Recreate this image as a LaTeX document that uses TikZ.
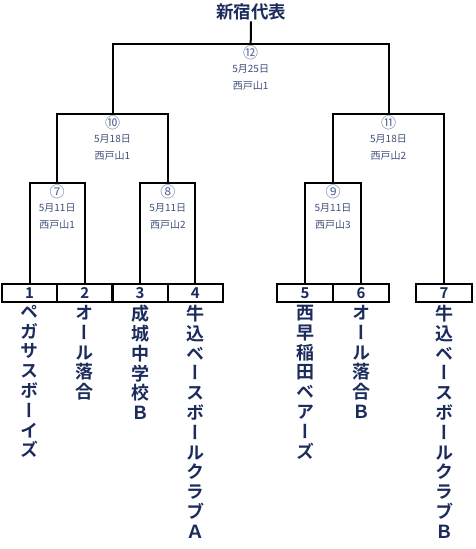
\documentclass[tikz,border=0pt]{standalone}
\usepackage{fontspec}
\usetikzlibrary{calc}
\newfontfamily\jp{Noto Sans CJK JP}
\newfontfamily\jpbh{Noto Sans CJK JP Bold}
\newfontfamily\jpbv[RawFeature=+vert]{Noto Sans CJK JP Bold}
\definecolor{navy}{HTML}{1B2B5B}
\definecolor{labc}{HTML}{3F4F78}
\definecolor{circc}{HTML}{5A6A99}
\begin{document}
\begin{tikzpicture}[x=1pt,y=-1pt,
  bracket/.style={line width=2pt, black},
  teambox/.style={draw, line width=2pt, minimum height=18pt, inner sep=0pt,
    font=\jpbh\fontsize{15}{15}\selectfont, text=navy},
  teamname/.style={anchor=north, inner sep=0pt, align=center,
    font=\jpbv\fontsize{18}{19.8}\selectfont, text=navy},
  circnum/.style={inner sep=0pt, font=\jp\fontsize{15}{15}\selectfont, text=circc},
  matchlab/.style={inner sep=0pt, font=\jp\fontsize{10}{10}\selectfont, text=labc},
  titlestyle/.style={inner sep=1pt, font=\jpbh\fontsize{17.5}{17.5}\selectfont, text=navy}]
\useasboundingbox (0,0) rectangle (476,549);
\fill[white] (0,0) rectangle (476,549);

% team boxes
\node[teambox, minimum width=55.25pt] (t1) at (29.6,293) {1};
\node[teambox, minimum width=55.25pt] (t2) at (84.9,293) {2};
\node[teambox, minimum width=55.25pt] (t3) at (140.1,293) {3};
\node[teambox, minimum width=55.25pt] (t4) at (195.4,293) {4};
\node[teambox, minimum width=56pt] (t5) at (305,293) {5};
\node[teambox, minimum width=56pt] (t6) at (361,293) {6};
\node[teambox, minimum width=56pt] (t7) at (444,293) {7};

% team names
\node[teamname] (n1) at (29.6,305) {ペ\\ガ\\サ\\ス\\ボ\\ー\\イ\\ズ};
\node[teamname] (n2) at (84.9,305) {オ\\ー\\ル\\落\\合};
\node[teamname] (n3) at (140.1,305) {成\\城\\中\\学\\校\\Ｂ};
\node[teamname] (n4) at (195.4,305) {牛\\込\\ベ\\ー\\ス\\ボ\\ー\\ル\\ク\\ラ\\ブ\\Ａ};
\node[teamname] (n5) at (305,305) {西\\早\\稲\\田\\ベ\\ア\\ー\\ズ};
\node[teamname] (n6) at (361,305) {オ\\ー\\ル\\落\\合\\Ｂ};
\node[teamname] (n7) at (444,305) {牛\\込\\ベ\\ー\\ス\\ボ\\ー\\ル\\ク\\ラ\\ブ\\Ｂ};

% match points
\coordinate (m7) at (57.2,183);
\coordinate (m8) at (167.8,183);
\coordinate (m9) at (333,183);
\coordinate (m10) at (112.5,114);
\coordinate (m11) at (388.5,114);
\coordinate (m12) at (250.7,44);

% title
\node[titlestyle] (title) at (251,12) {新宿代表};

% brackets
\draw[bracket] (t1.north) |- (m7) -| (t2.north);
\draw[bracket] (t3.north) |- (m8) -| (t4.north);
\draw[bracket] (t5.north) |- (m9) -| (t6.north);
\draw[bracket] (m7) |- (m10) -| (m8);
\draw[bracket] (m9) |- (m11) -| (t7.north);
\draw[bracket] (m10) |- (m12) -| (m11);
\draw[bracket] (m12) -- (title.south);

% match labels
\foreach \m/\c/\d/\v in {12/⑫/5月25日/西戸山1, 10/⑩/5月18日/西戸山1, 11/⑪/5月18日/西戸山2,
    7/⑦/5月11日/西戸山1, 8/⑧/5月11日/西戸山2, 9/⑨/5月11日/西戸山3} {
  \node[circnum] (c\m) at ($(m\m)+(0,8.5)$) {\c};
  \node[matchlab] (d\m) at ($(m\m)+(0,25)$) {\d};
  \node[matchlab] (v\m) at ($(m\m)+(0,42)$) {\v};
}
\end{tikzpicture}
\end{document}
